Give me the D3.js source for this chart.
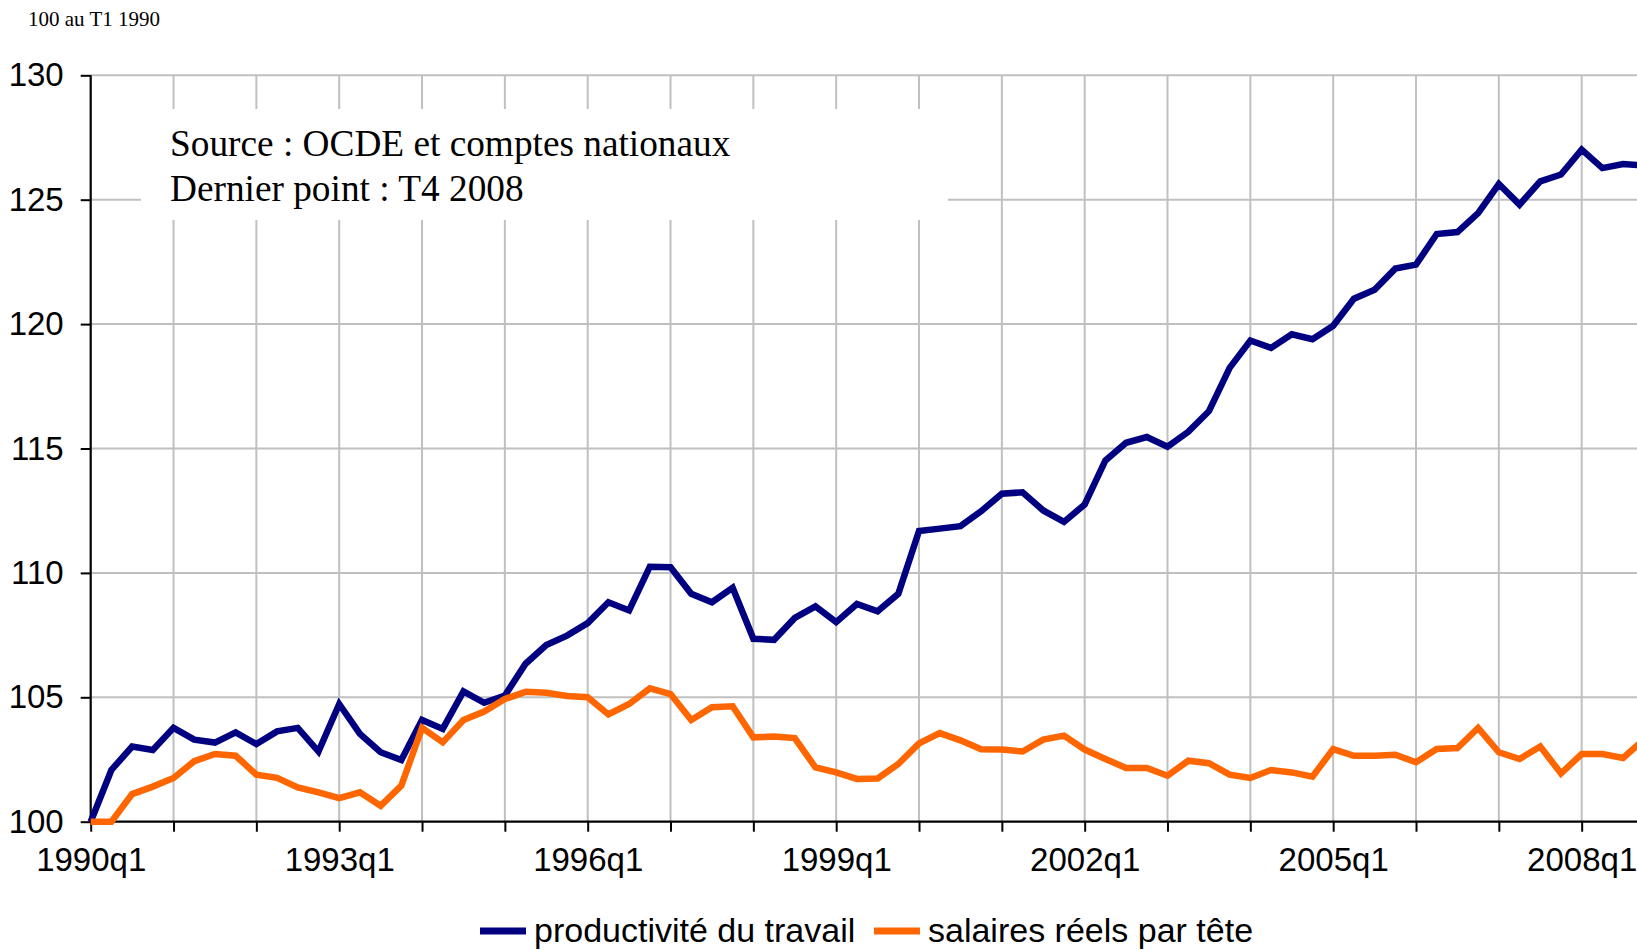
<!DOCTYPE html>
<html>
<head>
<meta charset="utf-8">
<script src="https://cdn.jsdelivr.net/npm/d3@7.9.0/dist/d3.min.js"></script>
<style>
  html, body { margin: 0; padding: 0; background: #fff; overflow: hidden; }
  svg { display: block; }
</style>
</head>
<body>
<svg id="chart" width="1637" height="950"></svg>
<script>
// quarters 1990q1 .. 2008q4
const years = d3.range(1990, 2009);
const quarters = years.flatMap((y) => [1, 2, 3, 4].map((q) => `${y}q${q}`));

const productivite = [
  100.0, 102.08, 103.02, 102.88, 103.77, 103.30, 103.18, 103.59,
  103.12, 103.63, 103.77, 102.82, 104.73, 103.53, 102.79, 102.48,
  104.09, 103.73, 105.24, 104.78, 105.07, 106.35, 107.10, 107.48,
  107.98, 108.82, 108.49, 110.25, 110.23, 109.16, 108.82, 109.40,
  107.35, 107.31, 108.19, 108.65, 108.02, 108.75, 108.46, 109.16,
  111.68, 111.78, 111.88, 112.48, 113.18, 113.24, 112.51, 112.05,
  112.75, 114.52, 115.23, 115.46, 115.07, 115.67, 116.50, 118.24,
  119.34, 119.04, 119.59, 119.39, 119.93, 121.02, 121.38, 122.23,
  122.39, 123.62, 123.70, 124.46, 125.63, 124.80, 125.74, 126.01,
  127.01, 126.27, 126.43, 126.38
];

const salaires = [
  100.0, 100.0, 101.11, 101.41, 101.76, 102.43, 102.72, 102.65,
  101.89, 101.76, 101.38, 101.18, 100.95, 101.18, 100.64, 101.45,
  103.77, 103.19, 104.09, 104.43, 104.93, 105.22, 105.18, 105.05,
  105.00, 104.31, 104.73, 105.36, 105.13, 104.09, 104.60, 104.64,
  103.39, 103.42, 103.36, 102.18, 101.98, 101.72, 101.74, 102.32,
  103.15, 103.56, 103.27, 102.91, 102.90, 102.82, 103.30, 103.46,
  102.90, 102.52, 102.16, 102.16, 101.85, 102.45, 102.35, 101.89,
  101.76, 102.08, 101.98, 101.81, 102.92, 102.65, 102.65, 102.69,
  102.39, 102.92, 102.96, 103.77, 102.79, 102.52, 103.02, 101.94,
  102.72, 102.72, 102.56, 103.30
];

const seriesNames = ['productivité du travail', 'salaires réels par tête'];
const seriesColors = ['#000080', '#ff6600'];
const yTicks = [100, 105, 110, 115, 120, 125, 130];
const xTickLabels = ['1990q1', '1993q1', '1996q1', '1999q1', '2002q1', '2005q1', '2008q1'];
const noteLines = ['Source : OCDE et comptes nationaux', 'Dernier point : T4 2008'];

const sans = "'Liberation Sans', Arial, sans-serif";
const serif = "'Liberation Serif', 'Times New Roman', serif";

const svg = d3.select('#chart');

let x = d3.scaleLinear().domain([0, quarters.length - 1]).range([90.7, 1643.8]);
let y = d3.scaleLinear().domain([100, 130]).range([821.7, 75.3]);

// grid
let yearIdx = quarters.map((q, i) => i).filter((i) => i % 4 === 0);
svg.append('g')
  .selectAll('line')
  .data(yearIdx.filter((i) => i > 0))
  .join('line')
  .attr('x1', (d) => x(d)).attr('x2', (d) => x(d))
  .attr('y1', y(130)).attr('y2', y(100))
  .attr('stroke', '#c0c0c0').attr('stroke-width', 2);

svg.append('g')
  .selectAll('line')
  .data(yTicks.filter((v) => v > 100))
  .join('line')
  .attr('x1', x(0)).attr('x2', 1637)
  .attr('y1', (d) => y(d)).attr('y2', (d) => y(d))
  .attr('stroke', '#c0c0c0').attr('stroke-width', 2);

// white note box hides the grid
svg.append('rect')
  .attr('x', 141).attr('y', 109)
  .attr('width', 807).attr('height', 111)
  .attr('fill', '#fff');

svg.append('g')
  .selectAll('text')
  .data(noteLines)
  .join('text')
  .attr('x', 170)
  .attr('y', (d, i) => 156 + i * 45)
  .attr('font-family', serif)
  .attr('font-size', 37.3)
  .attr('fill', '#000')
  .text((d) => d);

// axes
let xAxis = d3.axisBottom(x)
  .tickValues(yearIdx)
  .tickSize(10)
  .tickFormat((d) => (xTickLabels.includes(quarters[d]) ? quarters[d] : ''));

let gx = svg.append('g')
  .attr('transform', `translate(0,${y(100)})`)
  .call(xAxis);
gx.select('.domain').attr('d', `M${x(0)},0H1637`).attr('stroke', '#000').attr('stroke-width', 2.2);
gx.selectAll('.tick line').attr('stroke', '#000').attr('stroke-width', 2);
gx.selectAll('.tick text')
  .attr('y', 49)
  .attr('dy', 0)
  .attr('font-family', sans)
  .attr('font-size', 33)
  .attr('fill', '#000');

let yAxis = d3.axisLeft(y)
  .tickValues(yTicks)
  .tickSize(10)
  .tickPadding(17)
  .tickFormat(d3.format('d'));

let gy = svg.append('g')
  .attr('transform', `translate(${x(0)},0)`)
  .call(yAxis);
gy.select('.domain').attr('d', `M0,${y(130)}V${y(100)}`).attr('stroke', '#000').attr('stroke-width', 2.2);
gy.selectAll('.tick line').attr('stroke', '#000').attr('stroke-width', 2);
gy.selectAll('.tick text')
  .attr('font-family', sans)
  .attr('font-size', 33)
  .attr('fill', '#000');

// lines
let line = d3.line().x((d, i) => x(i)).y((d) => y(d));
[productivite, salaires].forEach((values, k) => {
  svg.append('path')
    .datum(values)
    .attr('d', line)
    .attr('fill', 'none')
    .attr('stroke', seriesColors[k])
    .attr('stroke-width', 6.5)
    .attr('stroke-linejoin', 'miter');
});

// unit note
svg.append('text')
  .attr('x', 28).attr('y', 26)
  .attr('font-family', serif)
  .attr('font-size', 21)
  .attr('fill', '#000')
  .text('100 au T1 1990');

// legend
const legendPos = [480, 874];
let legend = svg.append('g');
seriesNames.forEach((name, k) => {
  legend.append('line')
    .attr('x1', legendPos[k]).attr('x2', legendPos[k] + 46)
    .attr('y1', 931).attr('y2', 931)
    .attr('stroke', seriesColors[k]).attr('stroke-width', 7);
  legend.append('text')
    .attr('x', legendPos[k] + 54).attr('y', 942)
    .attr('font-family', sans)
    .attr('font-size', 34)
    .attr('fill', '#000')
    .text(name);
});
</script>
</body>
</html>
